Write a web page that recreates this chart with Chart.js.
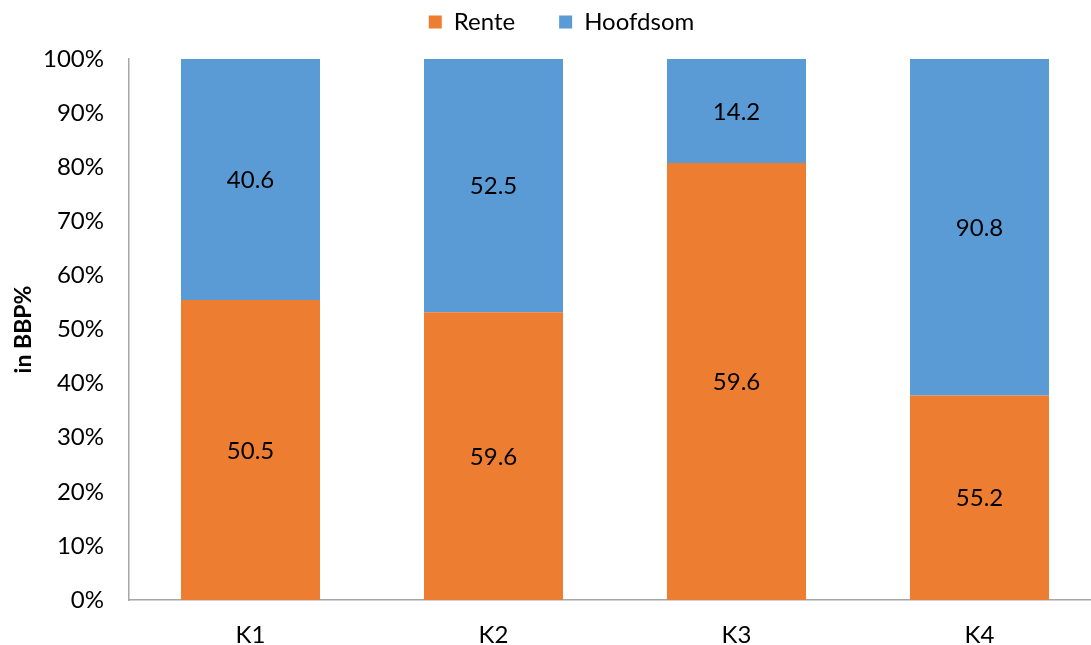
<!DOCTYPE html>
<html>
<head>
<meta charset="utf-8">
<script src="https://cdn.jsdelivr.net/npm/chart.js@4.4.1/dist/chart.umd.min.js"></script>
<style>
  html, body { margin: 0; padding: 0; background: #fff; overflow: hidden; }
  #wrap { width: 1101px; height: 645px; }
</style>
</head>
<body>
<div id="wrap"><canvas id="chart"></canvas></div>
<script>
// ===== DATA =====
const categories = ["K1", "K2", "K3", "K4"];
const rente = [50.5, 59.6, 59.6, 55.2];
const hoofdsom = [40.6, 52.5, 14.2, 90.8];
const yTicks = [0, 10, 20, 30, 40, 50, 60, 70, 80, 90, 100];

// 100% stacked: share of each series per category
const totals = categories.map((c, i) => rente[i] + hoofdsom[i]);
const rentePct = rente.map((v, i) => v / totals[i] * 100);
const hoofdsomPct = hoofdsom.map((v, i) => v / totals[i] * 100);

const fontFamily = "Lato, 'Open Sans', sans-serif";

// labels with the raw values in the middle of each segment
const valueLabels = {
  id: "valueLabels",
  afterDatasetsDraw(chart) {
    const ctx = chart.ctx;
    const raw = [rente, hoofdsom];
    ctx.save();
    ctx.font = "24px " + fontFamily;
    ctx.fillStyle = "#000";
    ctx.textAlign = "center";
    ctx.textBaseline = "middle";
    chart.data.datasets.forEach((ds, di) => {
      chart.getDatasetMeta(di).data.forEach((bar, i) => {
        const y = (bar.y + bar.base) / 2 + 1;
        ctx.fillText(raw[di][i].toFixed(1), bar.x, y);
      });
    });
    ctx.restore();
  }
};

// extra room under the legend, and nudge it a bit to the right
const legendGap = {
  id: "legendGap",
  beforeInit(chart) {
    const fit = chart.legend.fit;
    chart.legend.fit = function () {
      fit.bind(chart.legend)();
      this.height += 15;
    };
  },
  afterLayout(chart) {
    chart.legend.left += 11;
    chart.legend.right += 11;
  }
};

new Chart(document.getElementById("chart"), {
  type: "bar",
  data: {
    labels: categories,
    datasets: [
      { label: "Rente", data: rentePct, backgroundColor: "#ED7D31" },
      { label: "Hoofdsom", data: hoofdsomPct, backgroundColor: "#5B9BD5" }
    ]
  },
  options: {
    responsive: true,
    maintainAspectRatio: false,
    animation: false,
    layout: { padding: { top: -34, right: 0, bottom: 0, left: 0 } },
    datasets: { bar: { categoryPercentage: 1, barPercentage: 0.572 } },
    plugins: {
      tooltip: { enabled: false },
      legend: {
        position: "top",
        labels: {
          font: { size: 24, family: fontFamily },
          color: "#000",
          boxWidth: 13,
          boxHeight: 13,
          padding: 44
        }
      }
    },
    scales: {
      x: {
        stacked: true,
        grid: { display: false, drawTicks: false },
        border: { color: "#A6A6A6", width: 1.5 },
        ticks: { font: { size: 24, family: fontFamily }, color: "#000", padding: 21 },
        afterFit: (s) => { s.height = 45; }
      },
      y: {
        stacked: true,
        min: 0,
        max: 100,
        afterBuildTicks: (s) => { s.ticks = yTicks.map(v => ({ value: v })); },
        grid: { display: false, drawTicks: false },
        border: { color: "#A6A6A6", width: 1.5 },
        ticks: {
          font: { size: 24, family: fontFamily },
          color: "#000",
          padding: 25,
          callback: (v) => v + "%"
        },
        title: {
          display: true,
          text: "in BBP%",
          font: { size: 23, weight: "bold", family: fontFamily },
          color: "#000",
          padding: { top: 10, bottom: 0 }
        },
        afterFit: (s) => { s.width = 129; }
      }
    }
  },
  plugins: [valueLabels, legendGap]
});
</script>
</body>
</html>
